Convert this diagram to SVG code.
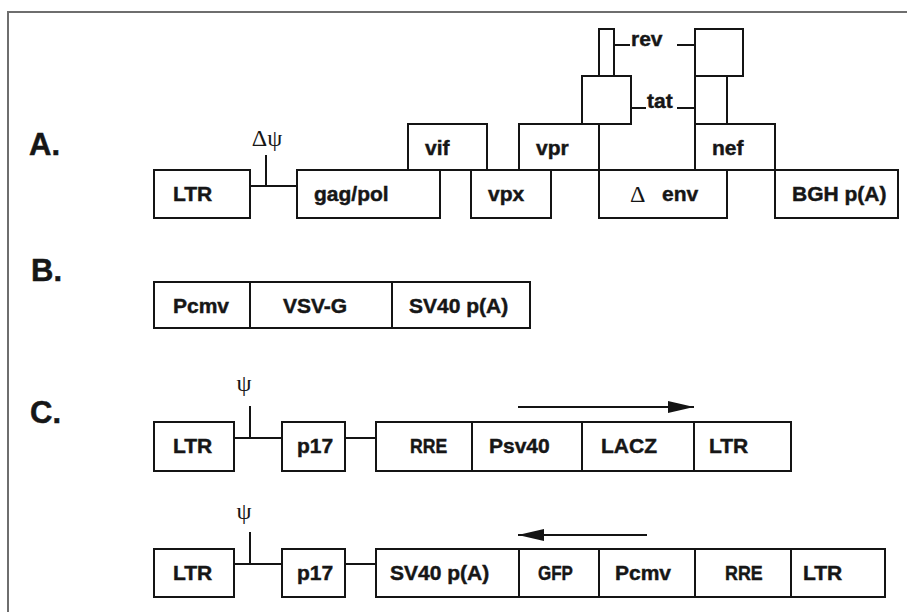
<svg xmlns="http://www.w3.org/2000/svg" width="907" height="612" viewBox="0 0 907 612">
<defs>
<style>
.bx{fill:#fff;stroke:#141414;stroke-width:2}
.ln{stroke:#141414;stroke-width:2;fill:none}
.lb{font-family:"Liberation Sans",Arial,sans-serif;font-weight:bold;font-size:21px;fill:#161616;stroke:#161616;stroke-width:0.45}
.pl{font-family:"Liberation Sans",Arial,sans-serif;font-weight:bold;font-size:31px;fill:#161616;stroke:#161616;stroke-width:0.5}
.gr{font-family:"Liberation Serif","Times New Roman",serif;font-size:24px;fill:#161616}
.fr{stroke:#6e6e6e;stroke-width:2;fill:none}
</style>
<marker id="ah" viewBox="0 0 26 12" refX="26" refY="6" markerWidth="26" markerHeight="12" markerUnits="userSpaceOnUse" orient="auto">
<path d="M0,0 L26,6 L0,12 Z" fill="#141414"/>
</marker>
</defs>
<rect x="0" y="0" width="907" height="612" fill="#fff"/>
<path class="fr" d="M8,612 V12 H907"/>

<g id="labels">
<text class="pl" x="29" y="155">A.</text>
<text class="pl" x="31" y="281">B.</text>
<text class="pl" x="30" y="423">C.</text>
</g>

<g id="connectors">
<!-- panel A -->
<line class="ln" x1="250" y1="186" x2="297" y2="186"/>
<line class="ln" x1="266" y1="155" x2="266" y2="186"/>
<line class="ln" x1="614" y1="45" x2="630" y2="45"/>
<line class="ln" x1="677" y1="45" x2="695" y2="45"/>
<line class="ln" x1="631" y1="108" x2="646" y2="108"/>
<line class="ln" x1="677" y1="108" x2="695" y2="108"/>
<!-- panel C row 1 -->
<line class="ln" x1="234" y1="438" x2="282" y2="438"/>
<line class="ln" x1="250" y1="406" x2="250" y2="438"/>
<line class="ln" x1="345" y1="438" x2="376" y2="438"/>
<line class="ln" x1="518" y1="407" x2="694" y2="407" stroke-width="2.5" marker-end="url(#ah)"/>
<!-- panel C row 2 -->
<line class="ln" x1="234" y1="564" x2="282" y2="564"/>
<line class="ln" x1="250" y1="532" x2="250" y2="564"/>
<line class="ln" x1="345" y1="564" x2="376" y2="564"/>
<line class="ln" x1="647" y1="535" x2="518" y2="535" stroke-width="2.5" marker-end="url(#ah)"/>
</g>

<g id="psi-marks">
<text class="gr" x="267" y="146" text-anchor="middle">Δψ</text>
<text class="gr" x="244" y="391" text-anchor="middle">ψ</text>
<text class="gr" x="244" y="519" text-anchor="middle">ψ</text>
</g>

<!-- Panel A -->
<g id="a-ltr"><rect class="bx" x="154" y="170" width="96" height="48"/><text class="lb" x="173" y="201">LTR</text></g>
<g id="a-gagpol"><rect class="bx" x="297" y="170" width="143" height="48"/><text class="lb" x="314" y="201">gag/pol</text></g>
<g id="a-vif"><rect class="bx" x="408" y="124" width="79" height="46"/><text class="lb" x="425" y="155">vif</text></g>
<g id="a-vpx"><rect class="bx" x="471" y="170" width="80" height="48"/><text class="lb" x="488" y="201">vpx</text></g>
<g id="a-vpr"><rect class="bx" x="519" y="124" width="80" height="46"/><text class="lb" x="536" y="155">vpr</text></g>
<g id="a-env"><rect class="bx" x="599" y="170" width="128" height="48"/><text class="gr" x="630" y="202">Δ</text><text class="lb" x="662" y="201">env</text></g>
<g id="a-nef"><rect class="bx" x="695" y="124" width="80" height="46"/><text class="lb" x="712" y="155">nef</text></g>
<g id="a-bgh"><rect class="bx" x="775" y="170" width="123" height="48"/><text class="lb" x="792" y="201">BGH p(A)</text></g>
<g id="a-tat1"><rect class="bx" x="582" y="76" width="49" height="48"/></g>
<g id="a-rev1"><rect class="bx" x="599" y="29" width="15" height="47"/></g>
<g id="a-tat2"><rect class="bx" x="695" y="76" width="32" height="48"/></g>
<g id="a-rev2"><rect class="bx" x="695" y="29" width="48" height="47"/></g>
<g id="a-revlabel"><text class="lb" x="631" y="46">rev</text></g>
<g id="a-tatlabel"><text class="lb" x="647" y="108">tat</text></g>

<!-- Panel B -->
<g id="b-pcmv"><rect class="bx" x="154" y="282" width="96" height="46"/><text class="lb" x="173" y="313">Pcmv</text></g>
<g id="b-vsvg"><rect class="bx" x="250" y="282" width="142" height="46"/><text class="lb" x="283" y="313">VSV-G</text></g>
<g id="b-sv40"><rect class="bx" x="392" y="282" width="138" height="46"/><text class="lb" x="409" y="313">SV40 p(A)</text></g>

<!-- Panel C row 1 -->
<g id="c1-ltr"><rect class="bx" x="154" y="422" width="80" height="49"/><text class="lb" x="173" y="453">LTR</text></g>
<g id="c1-p17"><rect class="bx" x="282" y="422" width="63" height="49"/><text class="lb" x="297" y="453">p17</text></g>
<g id="c1-rre"><rect class="bx" x="376" y="422" width="96" height="49"/><text class="lb" transform="translate(410,453) scale(0.84,1)">RRE</text></g>
<g id="c1-psv40"><rect class="bx" x="472" y="422" width="110" height="49"/><text class="lb" x="489" y="453">Psv40</text></g>
<g id="c1-lacz"><rect class="bx" x="582" y="422" width="112" height="49"/><text class="lb" x="601" y="453">LACZ</text></g>
<g id="c1-ltr2"><rect class="bx" x="694" y="422" width="97" height="49"/><text class="lb" x="709" y="453">LTR</text></g>

<!-- Panel C row 2 -->
<g id="c2-ltr"><rect class="bx" x="154" y="549" width="80" height="48"/><text class="lb" x="173" y="580">LTR</text></g>
<g id="c2-p17"><rect class="bx" x="282" y="549" width="63" height="48"/><text class="lb" x="297" y="580">p17</text></g>
<g id="c2-sv40"><rect class="bx" x="376" y="549" width="143" height="48"/><text class="lb" x="390" y="580">SV40 p(A)</text></g>
<g id="c2-gfp"><rect class="bx" x="519" y="549" width="80" height="48"/><text class="lb" transform="translate(538,580) scale(0.81,1)">GFP</text></g>
<g id="c2-pcmv"><rect class="bx" x="599" y="549" width="96" height="48"/><text class="lb" x="615" y="580">Pcmv</text></g>
<g id="c2-rre"><rect class="bx" x="695" y="549" width="96" height="48"/><text class="lb" transform="translate(725,580) scale(0.85,1)">RRE</text></g>
<g id="c2-ltr2"><rect class="bx" x="791" y="549" width="94" height="48"/><text class="lb" x="803" y="580">LTR</text></g>
</svg>
